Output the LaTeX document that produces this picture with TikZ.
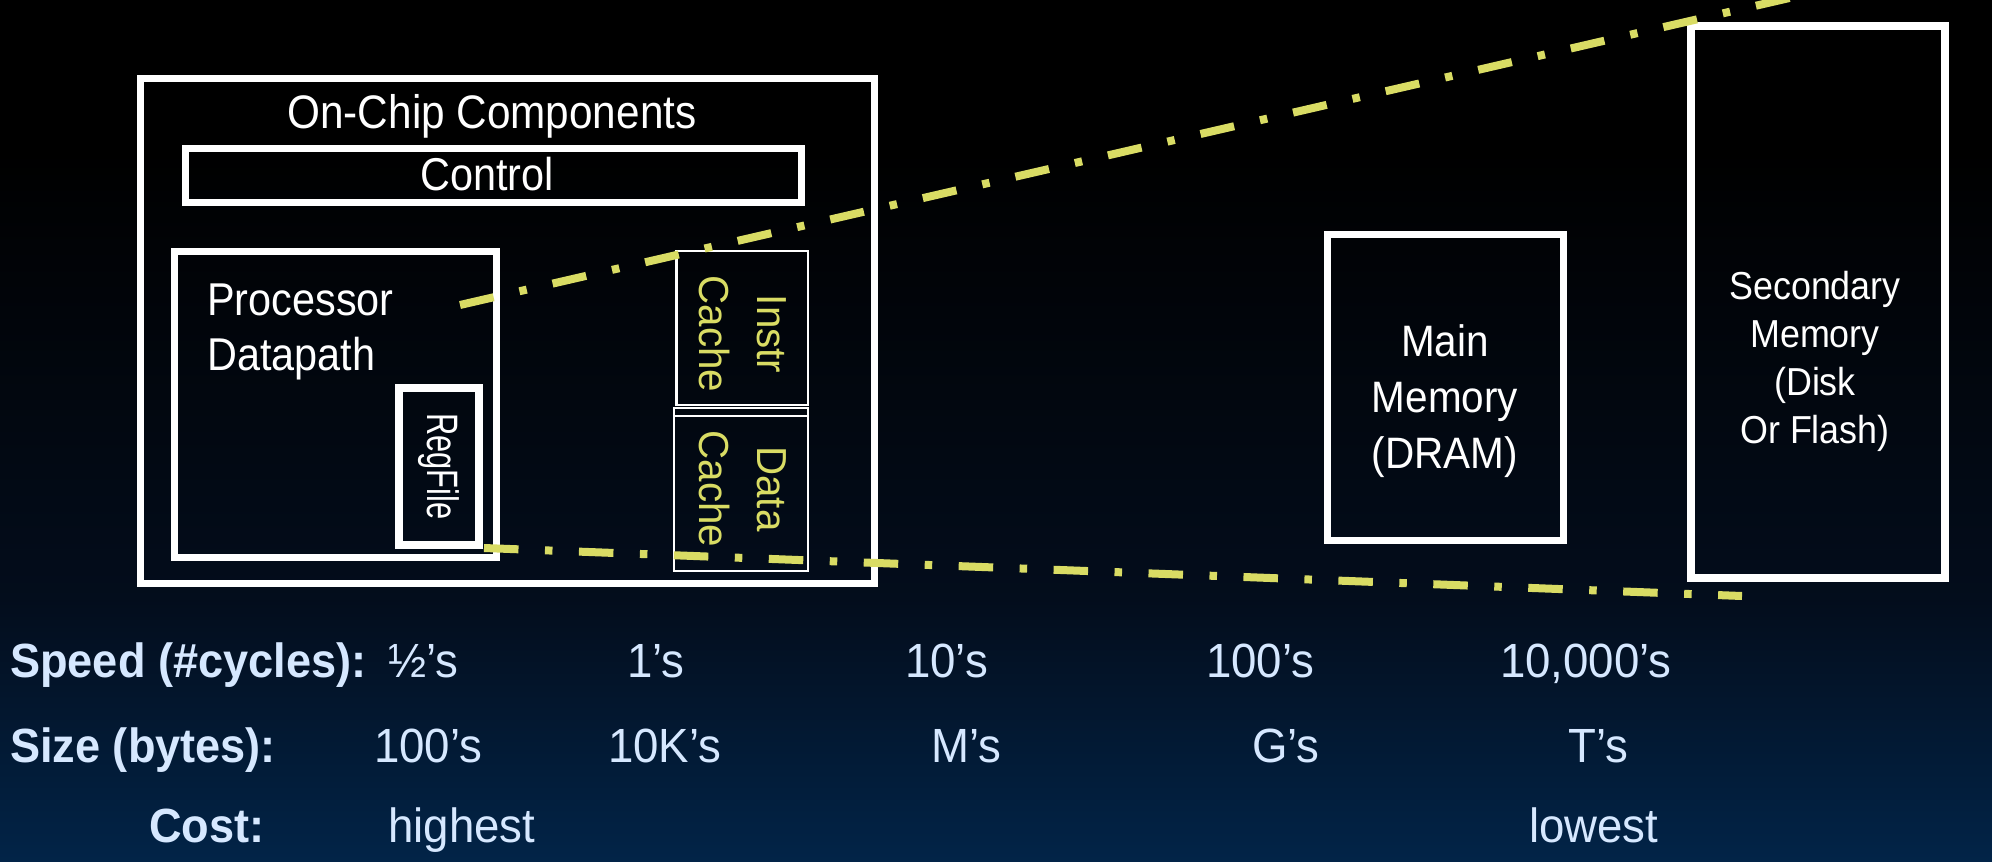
\documentclass[tikz,border=0pt]{standalone}
\usepackage{fontspec}
\setmainfont{Liberation Sans}
\newfontfamily\boxf{Liberation Sans}[FakeStretch=0.9]
\newfontfamily\memf{Liberation Sans}[FakeStretch=0.92]
\newfontfamily\regf{Liberation Sans}[FakeStretch=0.7]
\newfontfamily\cachef{Liberation Sans}[FakeStretch=0.96]
\newfontfamily\valf{Liberation Sans}[FakeStretch=0.95]
\newfontfamily\lblf{Liberation Sans}[FakeStretch=0.94]
\definecolor{yl}{RGB}{217,220,100}
\definecolor{lbc}{RGB}{214,232,255}
\definecolor{bgmid}{RGB}{3,13,28}
\definecolor{bgbot}{RGB}{2,36,72}
\begin{document}
\begin{tikzpicture}[x=1pt,y=-1pt,
  box/.style={draw=white, line width=7pt, rectangle, inner sep=0pt, outer sep=0pt},
  thinbox/.style={draw=white, line width=2.5pt, rectangle, inner sep=0pt, outer sep=0pt},
  yline/.style={draw=yl, line width=8pt, dash pattern=on 34.5pt off 26.5pt on 7.5pt off 26.5pt},
  boxtext/.style={text=white, inner sep=0pt, font=\boxf\fontsize{46}{55}\selectfont},
  memtext/.style={text=white, inner sep=0pt, align=center},
  cachetext/.style={text=yl, inner sep=0pt, align=center, rotate=-90, font=\cachef\fontsize{42}{58}\selectfont},
  lbl/.style={text=lbc, anchor=base west, inner sep=0pt, font=\lblf\bfseries\fontsize{48}{56}\selectfont},
  val/.style={text=lbc, anchor=base west, inner sep=0pt, font=\valf\fontsize{48}{56}\selectfont}]
\useasboundingbox (0,0) rectangle (1992,862);
\fill[black] (0,0) rectangle (1992,862);
\shade[top color=black,bottom color=bgmid] (0,150) rectangle (1992,600);
\shade[top color=bgmid,bottom color=bgbot] (0,599) rectangle (1992,862);

% on-chip components
\node[box, minimum width=734pt, minimum height=505pt] (chip) at (507.5,330.5) {};
\node[boxtext, anchor=base, font=\boxf\fontsize{47}{55}\selectfont] (chipt) at (492,128) {On-Chip Components};
\node[box, minimum width=616pt, minimum height=54pt] (ctrl) at (493,175) {};
\node[boxtext, anchor=base] (ctrlt) at (487,190) {Control};
\node[box, minimum width=322.5pt, minimum height=306.5pt] (dp) at (335.3,404.3) {};
\node[boxtext, anchor=base west, align=left] (dpt) at (207,370) {Processor\\Datapath};
\node[box, line width=8pt, minimum width=80pt, minimum height=157pt] (rf) at (439,466.5) {};
\node[text=white, inner sep=0pt, rotate=-90, font=\regf\fontsize{44}{50}\selectfont] (rft) at (rf.center) {RegFile};

% caches
\node[thinbox, minimum width=131.5pt, minimum height=154pt] (ic) at (742.25,328) {};
\node[cachetext] (ict) at (743,334) {Instr\\Cache};
\node[thinbox, minimum width=134pt, minimum height=163pt] (dc) at (741,489.5) {};
\draw[white, line width=2.5pt] ([yshift=-8pt]dc.north west) -- ([yshift=-8pt]dc.north east);
\node[cachetext] (dct) at (743,489) {Data\\Cache};

% memories
\node[box, minimum width=236pt, minimum height=306pt] (mm) at (1445,387) {};
\node[memtext, anchor=base, font=\memf\fontsize{44}{56}\selectfont] (mmt) at (1445,468) {Main\\Memory\\(DRAM)};
\node[box, line width=7.5pt, minimum width=254pt, minimum height=552pt] (sm) at (1818,302) {};
\node[memtext, anchor=base, font=\memf\fontsize{39}{48}\selectfont] (smt) at (1815,443) {Secondary\\Memory\\(Disk\\Or Flash)};

% zoom lines
\coordinate (u0) at (460,305);
\coordinate (u1) at (1850,-16);
\coordinate (l0) at (484,548);
\coordinate (l1) at (1742,596);
\draw[yline] (u0) -- (u1);
\draw[yline] (l0) -- (l1);

% bottom table
\node[lbl] (speed) at (10,677) {Speed (\#cycles):};
\node[val] (s1) at (388,677) {½’s};
\node[val] (s2) at (627,677) {1’s};
\node[val] (s3) at (905,677) {10’s};
\node[val] (s4) at (1206,677) {100’s};
\node[val] (s5) at (1500,677) {10,000’s};
\node[lbl] (size) at (10,762) {Size (bytes):};
\node[val] (z1) at (374,762) {100’s};
\node[val] (z2) at (608,762) {10K’s};
\node[val] (z3) at (931,762) {M’s};
\node[val] (z4) at (1252,762) {G’s};
\node[val] (z5) at (1568,762) {T’s};
\node[lbl] (cost) at (149,842) {Cost:};
\node[val] (c1) at (388,842) {highest};
\node[val] (c2) at (1529,842) {lowest};
\end{tikzpicture}
\end{document}
